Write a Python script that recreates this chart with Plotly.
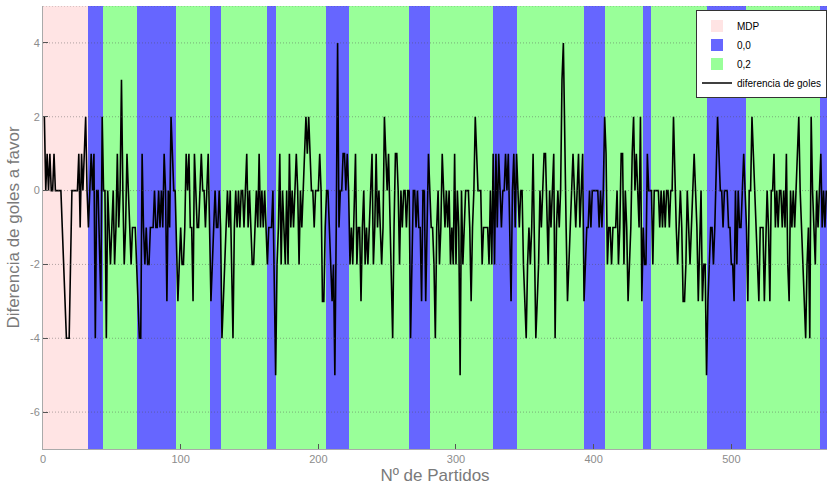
import plotly.graph_objects as go

# Goal difference per match (match number 1..569)
goal_diff = [
    # 1-32
    2, 0, 1, 0, 1, 0, 0, 1, 0, 0, 0, 0, 0, -1, -2, -3, -4, -4, -4, -2,
    0, 0, 0, 0, 0, 1, -1, 1, 0, 1, 2, 0,
    # 33-44
    -1, 0, 1, 0, 1, -4, 0, 0, -2, -3, 2, 0,
    # 45-68
    0, -4, 0, -1, -2, -1, 0, -2, -1, 1, -1, 0, 3, 0, -2, -1, 1, 0, -1, -2,
    -1, -1, -1, -2,
    # 69-96
    -3, -4, -4, 1, -1, -2, -1, -2, -2, -1, -1, -1, 0, -1, -1, 0, -1, 0, -1, 1,
    0, -3, 0, -1, 2, 1, 0, 0,
    # 97-120
    -2, -3, -2, -1, -2, -2, -1, 1, 0, 1, -1, -1, -3, 1, 0, -1, -1, 0, 1, 0,
    0, -1, 0, 1,
    # 121-129
    -1, -3, -2, -1, 0, -1, -1, 0, -1,
    # 130-162
    -4, -3, -2, -1, 0, -1, 0, -2, -4, -1, 0, -1, 0, -1, 0, 0, -1, 0, 1, -1,
    0, -1, -2, -2, -1, 0, -1, 1, -1, 0, -1, 0, -1,
    # 163-169
    -2, -1, -1, -1, 0, -2, -5,
    # 170-205
    -2, -1, 1, -2, 0, -1, -2, 0, -2, 1, -1, 0, -1, 0, 1, 0, -2, 0, -1, 0,
    1, 2, 1, 2, 1, 0, 0, -1, 0, 0, 0, 1, 0, -3, -3, -1,
    # 206-222
    0, 0, -1, -2, -3, -2, -5, -1, 4, -1, 0, 0, 1, 1, 0, 1, 0,
    # 223-265
    -2, -1, -2, 0, 1, -2, -1, -1, -3, -1, 0, -2, -1, -2, -1, 0, 1, -2, -1, 1,
    -1, 0, -1, -2, -1, 2, 1, 0, 1, -1, -2, -4, -1, 1, 1, 0, -2, 0, -1, 0,
    0, -1, 0,
    # 266-281
    0, -4, -2, 0, 0, -1, 0, -1, -1, -3, 0, 0, -3, -1, 1, 0,
    # 282-326
    -1, -1, -2, -4, -1, 0, -2, -1, 1, 0, -1, 0, -1, 0, -2, -1, -2, 1, -2, 0,
    -1, -5, 0, -2, -1, 0, 0, 0, -1, -3, -1, 0, 2, 1, 0, 0, 0, -2, -1, -1,
    -1, -1, -2, 0, -2,
    # 327-344
    1, -2, 1, -1, 1, 0, -1, 0, 0, 1, 0, 1, -1, -3, 0, 1, -1, 1,
    # 345-393
    0, -1, 0, 0, -2, -3, -4, -2, -1, -2, -1, 1, -2, -4, -3, -2, 0, -1, 0, 1,
    1, -1, -2, 0, -1, 0, 1, -4, -1, 0, -1, 0, 3, 4, 1, -1, -3, -2, -1, 0,
    1, 0, -1, 0, 1, -1, 0, 1, -3,
    # 394-408
    -2, -1, -1, 0, -1, 0, 0, 0, 0, 0, -1, 0, -1, 0, 2,
    # 409-436
    1, -2, -1, -1, -2, -1, -1, -1, 0, -2, -1, 1, 1, -2, 0, -1, -3, -2, -1, 1,
    2, 0, 1, 0, -1, 2, -3, -1,
    # 437-441
    -2, -2, 1, 0, 0,
    # 442-482
    0, -2, 0, 0, 0, 0, -1, 0, -1, 0, -1, 0, 0, -1, 0, 0, 2, 0, -1, -2,
    -1, 0, -1, -3, -3, -2, 0, -1, -2, -1, 0, 1, 0, -1, -3, -1, 0, -3, -2, -2,
    -5,
    # 483-511
    -3, -2, -1, -1, -2, -1, 1, 2, 1, 0, 0, -1, 0, 0, 0, -1, -1, -2, -2, -3,
    0, -2, 0, -1, -1, 0, 1, 0, -1,
    # 512-565
    -3, 0, 0, 2, 1, 0, -1, -2, -3, -1, -1, -1, -3, -1, 0, -1, -3, 0, 0, 1,
    -1, 0, -1, 0, 0, -1, 0, -1, 1, -2, -3, 0, -1, 0, -1, 0, 1, 2, 0, -1,
    -2, -3, -4, -2, -1, -4, 2, 0, -1, -2, 0, -1, 0, 1,
    # 566-569
    -1, 0, -1, 0,
]
match_no = list(range(1, len(goal_diff) + 1))

# Strategy periods: edges along the match axis and the strategy used in each
band_edges = [0, 32.5, 43.5, 68.5, 96.5, 121, 129.5, 162.5, 169.5, 205.5, 222.5,
              265.5, 281, 327, 344.5, 393, 408.5, 436, 441.5, 482, 511, 564.5, 570]
band_strategy = ["MDP", "0,0", "0,2", "0,0", "0,2", "0,0", "0,2", "0,0", "0,2",
                 "0,0", "0,2", "0,0", "0,2", "0,0", "0,2", "0,0", "0,2", "0,0",
                 "0,2", "0,0", "0,2", "0,0"]
strategy_colors = {"MDP": "#FFE4E4", "0,0": "#6666FF", "0,2": "#99FF99"}

y_min, y_max = -7, 5
x_ticks = [0, 100, 200, 300, 400, 500]
y_ticks = [-6, -4, -2, 0, 2, 4]
y_tick_text = ["-6", "-4", "-2", "0", "2", "4"]

fig = go.Figure()

# Shaded background bands, one bar trace per strategy
for name in ["MDP", "0,0", "0,2"]:
    centers, widths = [], []
    for i, s in enumerate(band_strategy):
        if s == name:
            a, b = band_edges[i], band_edges[i + 1]
            centers.append((a + b) / 2)
            widths.append(b - a)
    fig.add_trace(go.Bar(
        x=centers, y=[y_max - y_min] * len(centers), base=y_min,
        width=widths, name=name,
        marker=dict(color=strategy_colors[name], line=dict(width=0)),
        hoverinfo="skip",
    ))

fig.add_trace(go.Scatter(
    x=match_no, y=goal_diff, mode="lines", name="diferencia de goles",
    line=dict(color="black", width=1.6),
))

# Fine dotted horizontal grid drawn over the bands
for yv in y_ticks + [y_max]:
    fig.add_shape(type="line", xref="paper", x0=0, x1=1, yref="y", y0=yv, y1=yv,
                  line=dict(color="rgba(80,80,80,0.45)", width=1, dash="1px,2px"),
                  layer="above")

fig.update_layout(
    width=827, height=489,
    margin=dict(l=43, r=0, t=6, b=40),
    paper_bgcolor="white", plot_bgcolor="white",
    barmode="overlay", bargap=0,
    font=dict(family="Liberation Sans, Arial, sans-serif", color="#808080", size=11),
    showlegend=True,
    legend=dict(
        x=1, y=0.99, xanchor="right", yanchor="top",
        bgcolor="white", bordercolor="#333333", borderwidth=1,
        font=dict(size=10, color="black"),
        tracegroupgap=0, itemwidth=30,
    ),
    xaxis=dict(
        range=[0, 569.5], tickvals=x_ticks, showgrid=False, zeroline=False,
        ticks="inside", ticklen=5, tickcolor="#555555",
        showline=True, linecolor="#aaaaaa", linewidth=1,
        tickfont=dict(size=11, color="#8c8c8c"),
        title=dict(text="Nº de Partidos", font=dict(size=17, color="#7a7a7a"), standoff=4),
    ),
    yaxis=dict(
        range=[y_min, y_max], tickvals=y_ticks, ticktext=y_tick_text,
        showgrid=False, zeroline=False,
        ticks="inside", ticklen=5, tickcolor="#555555",
        showline=True, linecolor="#aaaaaa", linewidth=1,
        tickfont=dict(size=11, color="#8c8c8c"),
        title=dict(text="Diferencia de goles a favor", font=dict(size=17, color="#7a7a7a"), standoff=6),
    ),
)

fig.write_html("out.html")
